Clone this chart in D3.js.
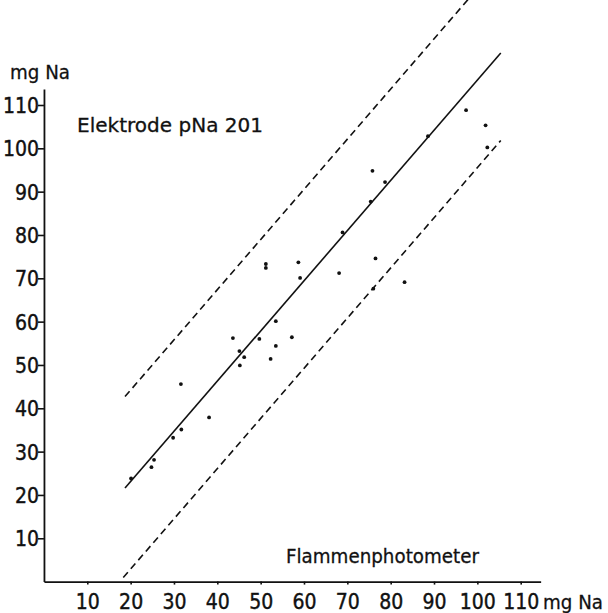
<!DOCTYPE html>
<html>
<head>
<meta charset="utf-8">
<script src="https://cdn.jsdelivr.net/npm/d3@7"></script>
<style>
	html, body { margin: 0; padding: 0; background: #ffffff; }
	svg { display: block; }
	.num { font-family: "Liberation Sans Narrow", "DejaVu Sans Condensed", sans-serif; font-size: 21px; fill: #111; stroke: #111; stroke-width: 0.4; }
	.lbl { font-family: "DejaVu Sans", sans-serif; font-size: 20px; fill: #111; stroke: #111; stroke-width: 0.3; }
</style>
</head>
<body>
<svg id="chart" width="608" height="613"></svg>
<script>

// Flammenphotometer (x) vs. Elektrode pNa 201 (y), mg Na
var flammX = [20.1, 24.8, 25.4, 29.8, 31.7, 31.6, 38.1, 43.6, 45.1, 45.2, 46.2, 49.7, 51.2, 51.2, 52.3, 53.5,
	53.5, 57.2, 58.7, 59.1, 68.1, 68.9, 75.4, 75.8, 76.5, 76.0, 78.7, 83.2, 88.6, 97.4, 101.9, 102.3];
var elektrodeY = [23.8, 26.4, 28.1, 33.2, 35.1, 45.6, 37.9, 56.2, 53.2, 49.9, 51.8, 56.0, 73.3, 72.4, 51.4, 60.1,
	54.4, 56.4, 73.7, 70.1, 71.2, 80.6, 87.7, 94.8, 74.6, 67.6, 92.2, 69.1, 102.8, 108.8, 105.3, 100.2];

var xTicks = [10, 20, 30, 40, 50, 60, 70, 80, 90, 100, 110];
var yTicks = [10, 20, 30, 40, 50, 60, 70, 80, 90, 100, 110];

// regression line and the two band limits
var fitSlope = 1.158;
var fitIntercept = -0.05;
var bandOffsets = [21.1, -20.2];
var lineFrom = [18.7, 18.3];   // start of upper / lower band
var fitFrom = 18.7;
var fitTo = 105.4;

var svg = d3.select("#chart");

var x = d3.scaleLinear().domain([0, 110]).range([43.96, 520.7]);
var y = d3.scaleLinear().domain([0, 110]).range([581.6, 105]);

var xAxisScale = x.copy().domain([0, 114.6]).range([x(0), x(114.6)]);
var yAxisScale = y.copy().domain([0, 113.7]).range([y(0), y(113.7)]);

// axes
var gx = svg.append("g")
	.attr("transform", "translate(0," + y(0) + ")")
	.call(d3.axisBottom(xAxisScale).tickValues(xTicks).tickSizeInner(3).tickSizeOuter(0).tickPadding(10).tickFormat(d3.format("d")));

var gy = svg.append("g")
	.attr("transform", "translate(" + x(0) + ",0)")
	.call(d3.axisLeft(yAxisScale).tickValues(yTicks).tickSizeInner(6).tickSizeOuter(0).tickPadding(0).tickFormat(d3.format("d")));

[gx, gy].forEach(function(g)
{
	g.select(".domain").attr("stroke", "#111").attr("stroke-width", 1.8);
	g.selectAll(".tick line").attr("stroke", "#111").attr("stroke-width", 1.6);
	g.selectAll(".tick text").attr("class", "num").attr("font-size", null).attr("font-family", null).attr("fill", null);
})

gx.selectAll(".tick text").attr("dy", null).attr("y", 27);
gy.selectAll(".tick text").attr("dy", "0.36em").attr("x", -5);

// regression + band lines
function lineAt(x0, x1, offset)
{
	return [[x0, fitSlope * x0 + fitIntercept + offset], [x1, fitSlope * x1 + fitIntercept + offset]];
}

var line = d3.line()
	.x(function(d) { return x(d[0]); })
	.y(function(d) { return y(d[1]); });

svg.append("path")
	.attr("d", line(lineAt(fitFrom, fitTo, 0)))
	.attr("fill", "none")
	.attr("stroke", "#111")
	.attr("stroke-width", 1.6);

for (var i = 0; i < bandOffsets.length; i++)
{
	svg.append("path")
		.attr("d", line(lineAt(lineFrom[i], fitTo, bandOffsets[i])))
		.attr("fill", "none")
		.attr("stroke", "#111")
		.attr("stroke-width", 1.6)
		.attr("stroke-dasharray", "7,4.5");
}

// measured points
svg.append("g").selectAll("circle")
	.data(flammX)
	.enter().append("circle")
	.attr("cx", function(d) { return x(d); })
	.attr("cy", function(d, i) { return y(elektrodeY[i]); })
	.attr("r", 1.9)
	.attr("fill", "#111");

// labels
function label(px, py, len, str)
{
	svg.append("text").attr("class", "lbl")
		.attr("x", px).attr("y", py)
		.attr("textLength", len).attr("lengthAdjust", "spacingAndGlyphs")
		.text(str);
}

label(10, 79, 60, "mg Na");
label(77, 132, 186, "Elektrode  pNa 201");
label(286, 563, 193, "Flammenphotometer");
label(543, 609, 60, "mg Na");

</script>
</body>
</html>
